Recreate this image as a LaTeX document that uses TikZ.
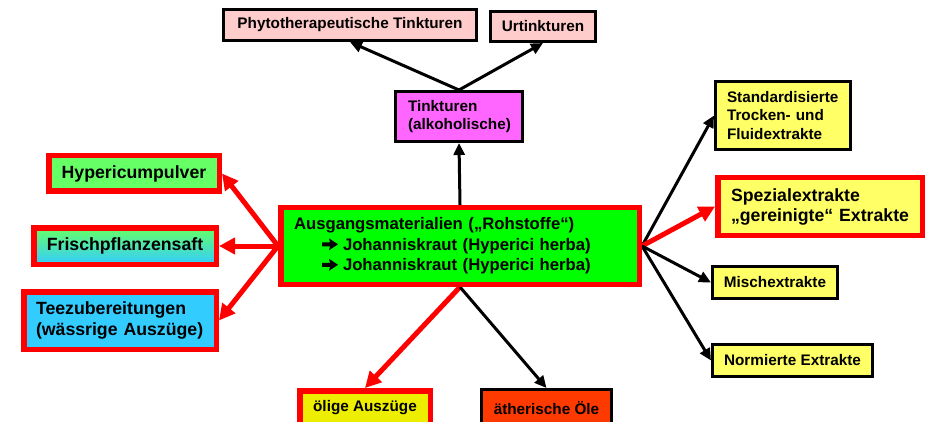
\documentclass[tikz,border=0pt]{standalone}
\usepackage{fontspec}
\setmainfont{Liberation Sans}
\usetikzlibrary{arrows.meta}

\definecolor{pinkfill}{HTML}{FFCCCC}
\definecolor{magentafill}{HTML}{FF66FF}
\definecolor{lightgreen}{HTML}{66FF66}
\definecolor{skyfill}{HTML}{33CCFF}
\definecolor{brightgreen}{HTML}{00FF00}
\definecolor{paleyellow}{HTML}{FFFF66}
\definecolor{oilyellow}{HTML}{EEEE00}
\definecolor{orangered}{HTML}{FF3A00}
\definecolor{boxred}{HTML}{FF0000}

\pgfdeclarelayer{arrowlayer}
\pgfsetlayers{arrowlayer,main}

\newcommand{\tinytxt}{\bfseries\fontsize{15.3}{18.3}\selectfont}
\newcommand{\midtxt}{\bfseries\fontsize{16.7}{20.5}\selectfont}
\newcommand{\bigtxt}{\bfseries\fontsize{17.7}{21.5}\selectfont}
% heavy bullet arrow in front of the list lines
\newcommand{\rarr}{\makebox[21pt][l]{\tikz[baseline=0pt,x=1pt,y=1pt]
  \fill[black] (0,4) -- (8,4) -- (7,0) -- (16,6) -- (7,12) -- (8,8) -- (0,8) -- cycle;}}

\begin{document}
\begin{tikzpicture}[x=1pt,y=-1pt,
  blackbox/.style={draw=black, line width=3pt, inner sep=0pt, align=center, font=\tinytxt},
  redbox/.style={draw=boxred, line width=5.5pt, inner sep=0pt, align=center, font=\bigtxt},
  blackarrow/.style={draw=black, line width=3pt, -{Triangle[length=12pt,width=11pt]}},
  redarrow/.style={draw=boxred, line width=5pt, -{Triangle[length=16pt,width=16pt]}}]

\useasboundingbox (0,0) rectangle (926,422);

% tinctures branch
\node[blackbox, fill=pinkfill, minimum width=253pt, minimum height=31pt] (phy) at (350,25) {Phytotherapeutische Tinkturen};
\node[blackbox, fill=pinkfill, minimum width=105pt, minimum height=30pt] (urt) at (543,26.5) {Urtinkturen};
\node[blackbox, fill=magentafill, minimum height=50pt, text width=102pt, inner xsep=12.5pt, align=left] (tink) at (459,116.5) {\mbox{Tinkturen}\\\mbox{(alkoholische)}};

% left group
\node[redbox, fill=lightgreen, minimum width=170.5pt, minimum height=35.5pt] (hyp) at (134,173.5) {Hypericumpulver};
\node[redbox, top color=lightgreen, bottom color=skyfill, minimum width=182.5pt, minimum height=36.5pt] (fri) at (125,246) {Frischpflanzensaft};
\node[redbox, fill=skyfill, minimum height=57.5pt, text width=168pt, inner xsep=12.25pt, align=left] (tee) at (120,320.5) {\mbox{Teezubereitungen}\\\mbox{(wässrige Auszüge)}};

% raw material
\node[redbox, fill=brightgreen, minimum height=76.5pt, text width=332pt, inner xsep=13.25pt, align=left, font=\midtxt] (ctr) at (460,246)
  {\mbox{Ausgangsmaterialien („Rohstoffe“)}\\
   \mbox{\hspace*{28pt}\rarr Johanniskraut (Hyperici herba)}\\
   \mbox{\hspace*{28pt}\rarr Johanniskraut (Hyperici herba)}};

% extracts on the right
\node[blackbox, fill=paleyellow, minimum height=68pt, text width=112pt, inner xsep=11.5pt, align=left] (std) at (783,115.5) {\mbox{Standardisierte}\\\mbox{Trocken- und}\\\mbox{Fluidextrakte}};
\node[redbox, fill=paleyellow, minimum height=57.5pt, text width=178pt, inner xsep=13.25pt, align=left, font=\bfseries\fontsize{17.7}{20}\selectfont] (spz) at (820,206.5) {\mbox{Spezialextrakte}\\\mbox{„gereinigte“ Extrakte}};
\node[blackbox, fill=paleyellow, minimum width=125pt, minimum height=32pt] (mis) at (775,282.5) {Mischextrakte};
\node[blackbox, fill=paleyellow, minimum width=160pt, minimum height=32pt] (nrm) at (792.5,360.5) {Normierte Extrakte};

% oils at the bottom
\node[redbox, fill=oilyellow, minimum width=130.5pt, minimum height=34.5pt, font=\tinytxt] (oel) at (365,408) {ölige Auszüge};
\node[blackbox, fill=orangered, minimum width=130pt, minimum height=37pt] (aeth) at (546.5,408) {ätherische Öle};

% connectors
\begin{pgfonlayer}{arrowlayer}
  \draw[blackarrow] (ctr.north) -- (tink.south);
  \draw[blackarrow] (tink.north) -- (phy.south);
  \draw[blackarrow] (tink.north) -- (urt.south);

  \draw[redarrow] (ctr.west) -- (hyp.east);
  \draw[redarrow] (ctr.west) -- (fri.east);
  \draw[redarrow] (ctr.west) -- (tee.east);

  \draw[blackarrow] (ctr.east) -- (std.west);
  \draw[redarrow] (ctr.east) -- (spz.west);
  \draw[blackarrow] (ctr.east) -- (mis.west);
  \draw[blackarrow] (ctr.east) -- (nrm.west);

  \draw[redarrow] (ctr.south) -- (oel.north);
  \draw[blackarrow] (ctr.south) -- (aeth.north);
\end{pgfonlayer}
\end{tikzpicture}
\end{document}
